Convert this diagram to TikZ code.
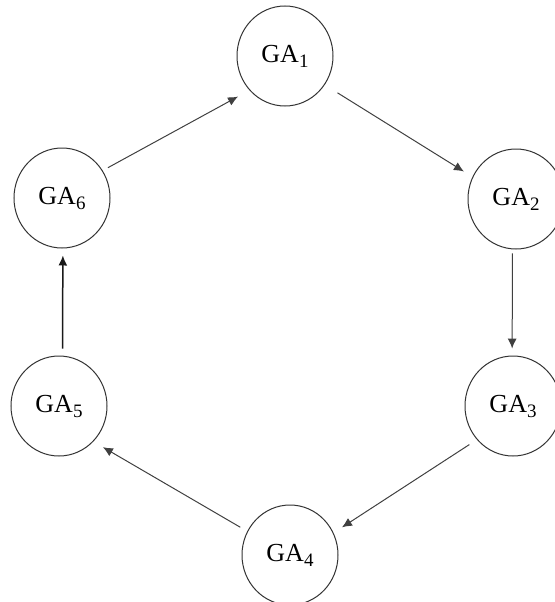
\documentclass[tikz,border=0pt]{standalone}
\usepackage{fontspec}
\setmainfont{Liberation Serif}
\usetikzlibrary{arrows.meta,shapes.geometric}
\newcommand{\gasub}[1]{GA\raisebox{-5pt}{\fontsize{19}{19}\selectfont #1}}
\begin{document}
\begin{tikzpicture}[x=1pt,y=-1pt,
  ga/.style={draw=black!80, line width=1pt, ellipse, minimum width=96pt,
    minimum height=100pt, inner sep=0pt, font=\fontsize{26}{26}\selectfont},
  link/.style={draw=black!75, line width=1pt,
    -{Latex[length=10pt,width=9pt]}},
  boldlink/.style={link, draw=black!90, line width=1.5pt}]
  \useasboundingbox (0,0) rectangle (554,602);
  % the six nodes of the ring
  \node[ga] (GA1) at (285,56)  {\gasub{1}};
  \node[ga] (GA2) at (516,199) {\gasub{2}};
  \node[ga] (GA3) at (513,406) {\gasub{3}};
  \node[ga] (GA4) at (290,555) {\gasub{4}};
  \node[ga] (GA5) at (59,406)  {\gasub{5}};
  \node[ga] (GA6) at (62,198)  {\gasub{6}};
  % directed links around the ring
  \draw[link, shorten <=15pt, shorten >=10pt] (GA1.-36) -- (GA2.153);
  \draw[link, shorten <=4pt,  shorten >=7pt]  (GA2.-94) -- (GA3.91);
  \draw[link, shorten <=9pt,  shorten >=10pt] (GA3.223) -- (GA4.27);
  \draw[link, shorten <=8pt,  shorten >=11pt] (GA4.151) -- (GA5.-46);
  \draw[boldlink, shorten <=7pt, shorten >=7pt] (GA5.86) -- (GA6.-89);
  \draw[link, shorten <=6pt,  shorten >=13pt] (GA6.34) -- (GA1.224);
\end{tikzpicture}
\end{document}
